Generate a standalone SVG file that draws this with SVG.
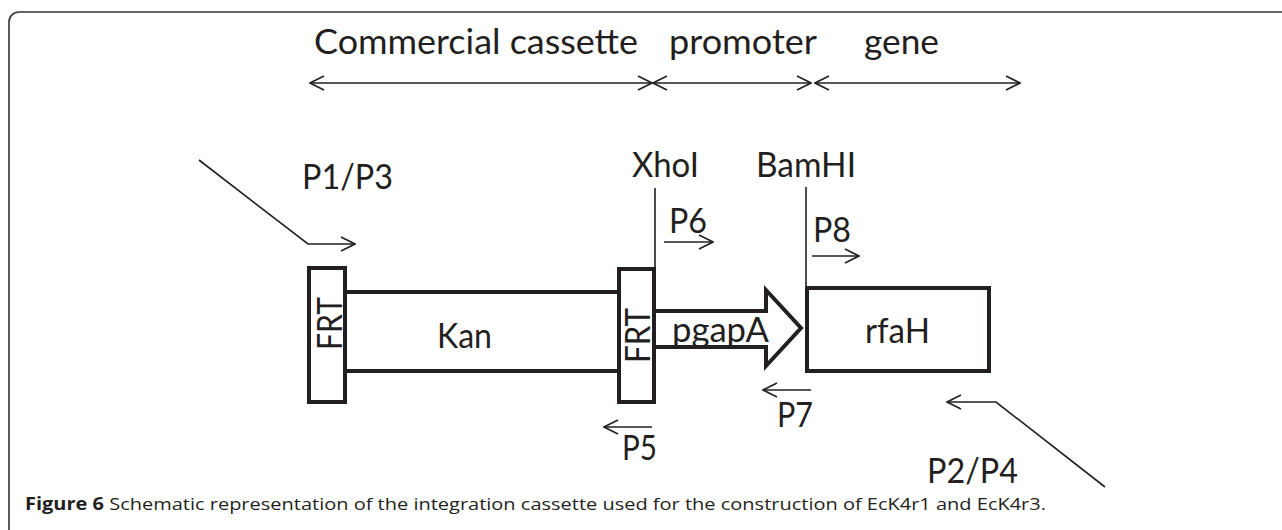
<svg xmlns="http://www.w3.org/2000/svg" width="1282" height="530" viewBox="0 0 1282 530">
  <style>
    .t { font-family: Lato, "Open Sans", "Liberation Sans", sans-serif; font-size: 35px; fill: #231f20; }
    .box { fill: #fff; stroke: #231f20; stroke-width: 4; stroke-linejoin: miter; }
    .thin { fill: none; stroke: #231f20; stroke-width: 1.6; }
    .cap { font-family: "Open Sans", "Liberation Sans", sans-serif; font-size: 17px; fill: #231f20; }
  </style>
  <defs>
    <marker id="arr" viewBox="0 0 16 16" markerUnits="userSpaceOnUse" markerWidth="16" markerHeight="16" refX="15" refY="8" orient="auto-start-reverse">
      <path d="M1,1 L15,8 L1,15" fill="none" stroke="#231f20" stroke-width="1.6"/>
    </marker>
  </defs>
  <rect width="1282" height="530" fill="#fff"/>
  <rect id="frame" x="9" y="12" width="1300" height="560" rx="10" ry="10" fill="none" stroke="#333" stroke-width="1.6"/>

  <g id="labels-top">
    <text class="t" x="314" y="54" textLength="324" lengthAdjust="spacingAndGlyphs">Commercial cassette</text>
    <text class="t" x="669" y="54" textLength="148" lengthAdjust="spacingAndGlyphs">promoter</text>
    <text class="t" x="864" y="54" textLength="75" lengthAdjust="spacingAndGlyphs">gene</text>
  </g>

  <g id="connectors">
    <line class="thin" x1="310" y1="83" x2="652" y2="83" marker-start="url(#arr)" marker-end="url(#arr)"/>
    <line class="thin" x1="653" y1="83" x2="811" y2="83" marker-start="url(#arr)" marker-end="url(#arr)"/>
    <line class="thin" x1="815" y1="83" x2="1020" y2="83" marker-start="url(#arr)" marker-end="url(#arr)"/>
    <polyline class="thin" points="199,160 308,244 355,244" marker-end="url(#arr)"/>
    <line class="thin" x1="664" y1="242" x2="713" y2="242" marker-end="url(#arr)"/>
    <line class="thin" x1="812" y1="256" x2="859" y2="256" marker-end="url(#arr)"/>
    <line class="thin" x1="652" y1="427" x2="604" y2="427" marker-end="url(#arr)"/>
    <line class="thin" x1="811" y1="390" x2="763" y2="390" marker-end="url(#arr)"/>
    <polyline class="thin" points="1105,487 996,402 947,402" marker-end="url(#arr)"/>
    <line class="thin" x1="655" y1="188" x2="655" y2="268"/>
    <line class="thin" x1="806" y1="187" x2="806" y2="288"/>
  </g>

  <g id="kan">
    <rect class="box" x="345" y="292" width="274" height="79"/>
    <text class="t" x="437" y="348" textLength="55" lengthAdjust="spacingAndGlyphs">Kan</text>
  </g>
  <g id="frt-left">
    <rect class="box" x="309" y="268" width="36" height="134"/>
    <text class="t" transform="translate(342,323.5) rotate(-90)" text-anchor="middle" textLength="53" lengthAdjust="spacingAndGlyphs">FRT</text>
  </g>
  <g id="pgapA">
    <polygon class="box" points="654,311 766,311 766,290 801,328 766,366 766,347 654,347"/>
    <text class="t" x="672" y="342" textLength="97" lengthAdjust="spacingAndGlyphs">pgapA</text>
  </g>
  <g id="frt-right">
    <rect class="box" x="619" y="269" width="35" height="133"/>
    <text class="t" transform="translate(650,335.5) rotate(-90)" text-anchor="middle" textLength="55" lengthAdjust="spacingAndGlyphs">FRT</text>
  </g>
  <g id="rfaH">
    <rect class="box" x="807" y="288" width="182" height="83"/>
    <text class="t" x="865" y="343" textLength="65" lengthAdjust="spacingAndGlyphs">rfaH</text>
  </g>

  <g id="primer-labels">
    <text class="t" x="302" y="189" textLength="91" lengthAdjust="spacingAndGlyphs">P1/P3</text>
    <text class="t" x="632" y="177" textLength="67" lengthAdjust="spacingAndGlyphs">XhoI</text>
    <text class="t" x="756" y="177" textLength="100" lengthAdjust="spacingAndGlyphs">BamHI</text>
    <text class="t" x="669" y="233" textLength="38" lengthAdjust="spacingAndGlyphs">P6</text>
    <text class="t" x="813" y="242" textLength="38" lengthAdjust="spacingAndGlyphs">P8</text>
    <text class="t" x="622" y="460" textLength="35" lengthAdjust="spacingAndGlyphs">P5</text>
    <text class="t" x="777" y="427" textLength="36" lengthAdjust="spacingAndGlyphs">P7</text>
    <text class="t" x="927" y="483" textLength="91" lengthAdjust="spacingAndGlyphs">P2/P4</text>
  </g>

  <g id="caption">
    <text class="cap" x="25" y="510" textLength="1021" lengthAdjust="spacingAndGlyphs"><tspan font-weight="bold">Figure 6</tspan> Schematic representation of the integration cassette used for the construction of EcK4r1 and EcK4r3.</text>
  </g>
</svg>
